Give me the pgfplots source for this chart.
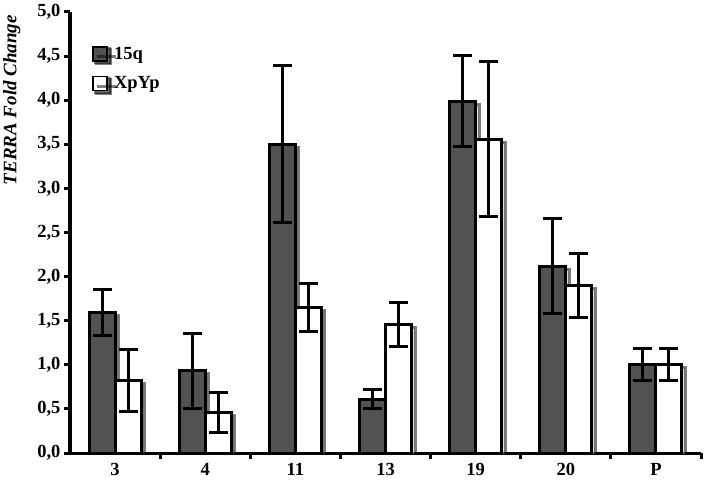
\documentclass[border=0pt]{standalone}
\usepackage{fontspec}
\setmainfont{Liberation Serif}
\usepackage{pgfplots}
\pgfplotsset{compat=1.18}
\usetikzlibrary{shadows}
\definecolor{darkbar}{HTML}{525252}
\pgfplotsset{
  errstyle/.style={
    error bars/y dir=both, error bars/y explicit,
    error bars/error bar style={line width=3pt, black},
    error bars/error mark options={rotate=90, mark size=9.5pt, line width=3pt, black},
  },
  barshadow/.style={drop shadow={shadow xshift=3.5pt, shadow yshift=-3pt, fill=gray!45}},
}
\begin{document}
\begin{tikzpicture}
\begin{axis}[
  scale only axis, width=631pt, height=441pt,
  xmin=-0.5, xmax=6.5, ymin=0, ymax=5,
  axis lines*=left,
  axis line style={line width=3pt, -},
  ybar=0pt, bar width=26pt,
  xtick={0,...,6}, xticklabels={3,4,11,13,19,20,P},
  major x tick style={draw=none},
  minor xtick={0.5,1.5,...,6.5},
  minor x tick style={line width=3pt, black},
  minor tick length=6pt,
  ytick={0,0.5,...,5},
  major y tick style={line width=3pt, black},
  major tick length=6pt,
  tick align=outside,
  tick label style={font=\bfseries\fontsize{18.5}{20}\selectfont},
  yticklabel style={/pgf/number format/fixed, /pgf/number format/fixed zerofill,
    /pgf/number format/precision=1, /pgf/number format/use comma,
    /pgf/number format/assume math mode=true},
  ylabel={\bfseries\itshape\fontsize{19}{21}\selectfont TERRA Fold Change},
  ylabel style={at={(ticklabel cs:0.8)}, yshift=10pt},
  xticklabel style={yshift=-1pt},
  legend style={at={(0.03,0.93)}, anchor=north west, draw=none, fill=none,
    font=\bfseries\fontsize{18.5}{20}\selectfont, row sep=12pt},
  legend cell align=left,
  legend image code/.code={\draw[#1, line width=1.8pt, drop shadow={shadow xshift=2pt, shadow yshift=-2pt, fill=gray!25}] (0pt,-7pt) rectangle (14pt,7pt);
    \path[draw=none, fill=none] (0pt,0pt) -- (19pt,0pt);},
]
\addplot[fill=darkbar, draw=black, line width=3pt, barshadow, errstyle]
  coordinates {
  (0,1.59) +- (0,0.26)
  (1,0.93) +- (0,0.43)
  (2,3.50) +- (0,0.89)
  (3,0.61) +- (0,0.11)
  (4,3.99) +- (0,0.52)
  (5,2.12) +- (0,0.54)
  (6,1.00) +- (0,0.18)
};
\addplot[fill=white, draw=black, line width=3pt, barshadow, errstyle]
  coordinates {
  (0,0.82) +- (0,0.35)
  (1,0.46) +- (0,0.23)
  (2,1.65) +- (0,0.27)
  (3,1.46) +- (0,0.25)
  (4,3.56) +- (0,0.88)
  (5,1.90) +- (0,0.36)
  (6,1.00) +- (0,0.18)
};
\legend{15q, XpYp}
\coordinate (A) at (rel axis cs:0,0);
\coordinate (B) at (rel axis cs:1,1);
\end{axis}
\pgfresetboundingbox
\path ([xshift=-70pt,yshift=-31pt]A) rectangle ([xshift=7pt,yshift=12pt]B);
\end{tikzpicture}
\end{document}
